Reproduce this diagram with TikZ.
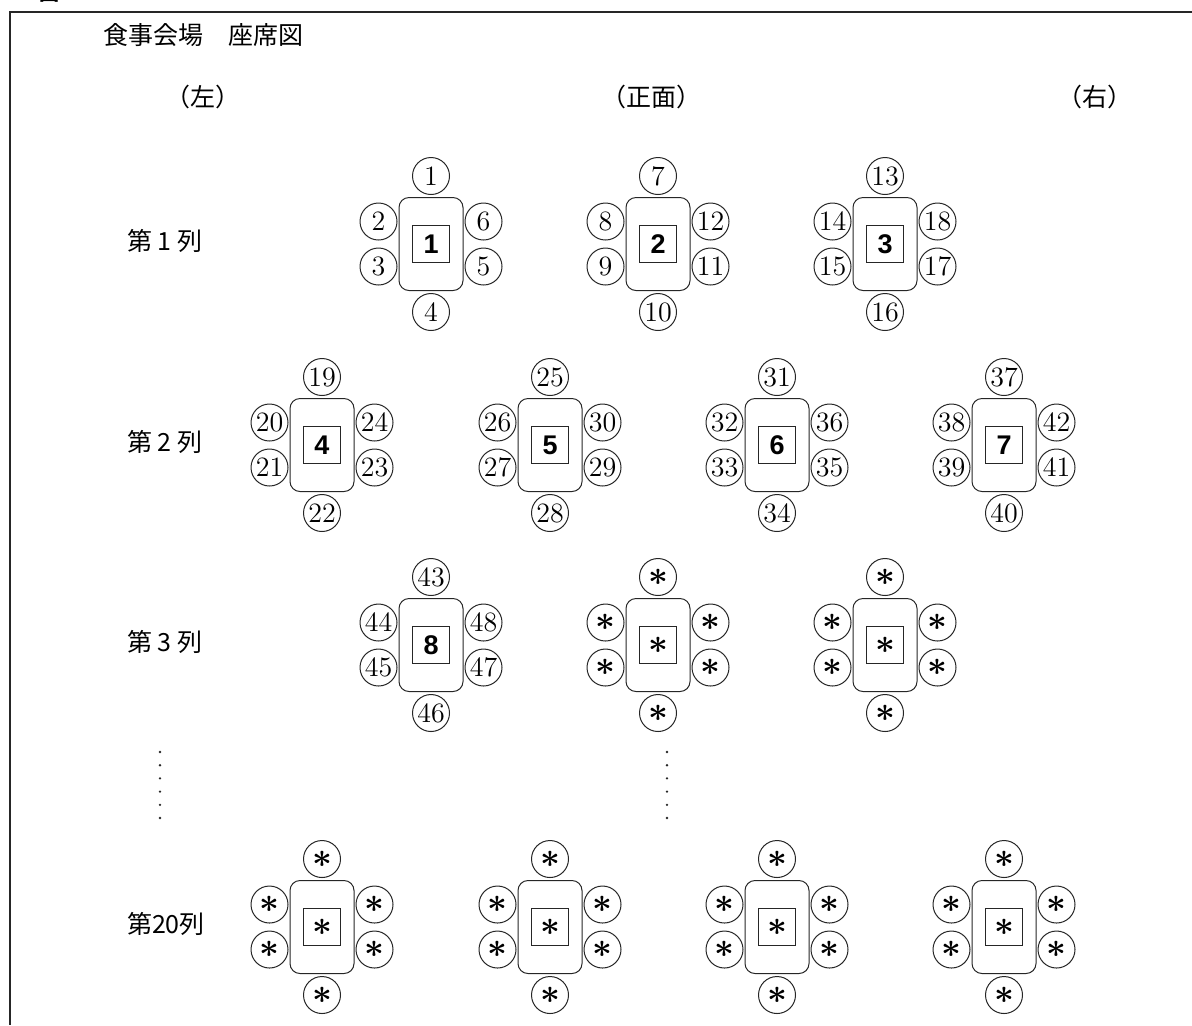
\documentclass[tikz,border=0pt]{standalone}
\usepackage{fontspec}
\newfontfamily\jpfont{Noto Sans CJK JP}
\newfontfamily\tagfont{Liberation Sans}
\usetikzlibrary{positioning}

\newcommand\ask{{\fontsize{17}{17}\selectfont\boldmath$\ast$}}
% name, centre, table number, seats: top, upper left, lower left, bottom, lower right, upper right
\newcommand\seattable[9]{%
  \node[desk] (#1) at (#2) {};
  \node[plate] (#1c) at (#1) {#3};
  \node[seat] (#1s1) [above=1pt of #1] {#4};
  \node[seat] (#1s2) [left=0.5pt of #1,yshift=11.25pt] {#5};
  \node[seat] (#1s3) [left=0.5pt of #1,yshift=-11.25pt] {#6};
  \node[seat] (#1s4) [below=1pt of #1] {#7};
  \node[seat] (#1s5) [right=0.5pt of #1,yshift=-11.25pt] {#8};
  \node[seat] (#1s6) [right=0.5pt of #1,yshift=11.25pt] {#9};
}

\begin{document}
\begin{tikzpicture}[x=0.5pt,y=-0.5pt,black!85,
    desk/.style={rectangle,draw,rounded corners=5pt,minimum width=32pt,minimum height=46.5pt,line width=0.5pt},
    plate/.style={rectangle,draw,minimum size=18.5pt,inner sep=0pt,line width=0.5pt,
                  text=black,font=\tagfont\bfseries\fontsize{13.5}{13.5}\selectfont},
    seat/.style={circle,draw,minimum size=18.5pt,inner sep=0pt,line width=0.5pt,
                 text=black,font=\fontsize{14}{14}\selectfont},
    jp/.style={text=black,font=\jpfont\fontsize{12.5}{12.5}\selectfont},
    vdots/.style={line width=1.3pt,line cap=round,dash pattern=on 0pt off 6.6pt}]
\useasboundingbox (0,0) rectangle (1192,1025);

\node[anchor=base west,text=black,font=\jpfont\bfseries\fontsize{10}{10}\selectfont] (fig) at (32,0) {図 1};
\draw[line width=0.75pt] (1192,12) -- (10,12) -- (10,1025);

\node[jp,anchor=west] (title) at (96,35) {食事会場　座席図};
\node[jp] (left) at (203,97) {（左）};
\node[jp] (front) at (651,97) {（正面）};
\node[jp] (right) at (1095,97) {（右）};

\node[jp,anchor=west] (row1) at (120,241) {第 1 列};
\node[jp,anchor=west] (row2) at (120,442) {第 2 列};
\node[jp,anchor=west] (row3) at (120,642) {第 3 列};
\node[jp,anchor=west] (row20) at (120,924) {第20列};

\seattable{t1}{431,244}{1}{1}{2}{3}{4}{5}{6}
\seattable{t2}{658,244}{2}{7}{8}{9}{10}{11}{12}
\seattable{t3}{885,244}{3}{13}{14}{15}{16}{17}{18}
\seattable{t4}{322,445}{4}{19}{20}{21}{22}{23}{24}
\seattable{t5}{550,445}{5}{25}{26}{27}{28}{29}{30}
\seattable{t6}{777,445}{6}{31}{32}{33}{34}{35}{36}
\seattable{t7}{1004,445}{7}{37}{38}{39}{40}{41}{42}
\seattable{t8}{431,645}{8}{43}{44}{45}{46}{47}{48}
\seattable{t9}{658,645}{\ask}{\ask}{\ask}{\ask}{\ask}{\ask}{\ask}
\seattable{t10}{885,645}{\ask}{\ask}{\ask}{\ask}{\ask}{\ask}{\ask}

\draw[vdots] (160,752) -- (160,819);
\draw[vdots] (667,752) -- (667,819);

\seattable{z1}{322,927}{\ask}{\ask}{\ask}{\ask}{\ask}{\ask}{\ask}
\seattable{z2}{550,927}{\ask}{\ask}{\ask}{\ask}{\ask}{\ask}{\ask}
\seattable{z3}{777,927}{\ask}{\ask}{\ask}{\ask}{\ask}{\ask}{\ask}
\seattable{z4}{1004,927}{\ask}{\ask}{\ask}{\ask}{\ask}{\ask}{\ask}
\end{tikzpicture}
\end{document}
